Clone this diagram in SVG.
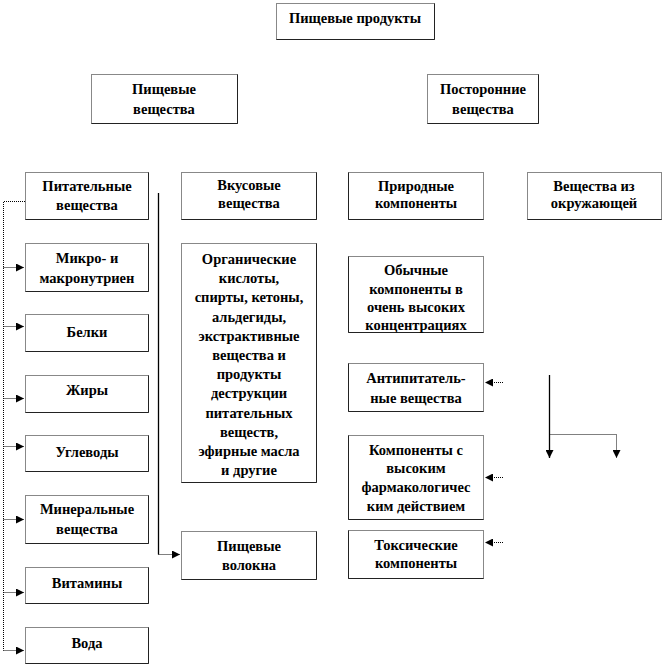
<svg xmlns="http://www.w3.org/2000/svg" width="664" height="666" viewBox="0 0 664 666">
<defs>
<style>
.bx{fill:#fff;stroke:#111;stroke-width:1;stroke-dasharray:1 1}
.sh{fill:none;stroke:#222;stroke-width:1}
.dl{fill:none;stroke:#000;stroke-width:1;stroke-dasharray:1 1}
.sl{fill:none;stroke:#000;stroke-width:1.3}
</style>
<marker id="ah" viewBox="0 0 8 8" refX="8" refY="4" markerWidth="8" markerHeight="8" markerUnits="userSpaceOnUse" orient="auto">
<path d="M0,0 L8,4 L0,8 Z" fill="#000"/>
</marker>
</defs>
<rect width="664" height="666" fill="#fff"/>
<g font-family="Liberation Serif, Times New Roman, serif" font-weight="bold" font-size="14.5" text-anchor="middle" fill="#000">
<g id="n-products"><rect class="bx" x="276.5" y="3.5" width="158" height="36"/><path class="sh" d="M434.5,3.5 V39.5 H276.5"/><text x="355" y="23">Пищевые продукты</text></g>
<g id="n-food"><rect class="bx" x="91.5" y="74.5" width="146" height="49"/><path class="sh" d="M237.5,74.5 V123.5 H91.5"/><text x="164" y="94">Пищевые</text><text x="164" y="114">вещества</text></g>
<g id="n-foreign"><rect class="bx" x="427.5" y="74.5" width="111" height="49"/><path class="sh" d="M538.5,74.5 V123.5 H427.5"/><text x="483" y="94">Посторонние</text><text x="483" y="114">вещества</text></g>

<g id="n-nutr"><rect class="bx" x="25.5" y="172.5" width="123" height="47"/><path class="sh" d="M148.5,172.5 V219.5 H25.5"/><text x="87" y="191">Питательные</text><text x="87" y="210">вещества</text></g>
<g id="n-micro"><rect class="bx" x="25.5" y="243.5" width="123" height="48"/><path class="sh" d="M148.5,243.5 V291.5 H25.5"/><text x="87" y="263">Микро- и</text><text x="87" y="283">макронутриен</text></g>
<g id="n-prot"><rect class="bx" x="25.5" y="314.5" width="123" height="37"/><path class="sh" d="M148.5,314.5 V351.5 H25.5"/><text x="87" y="337">Белки</text></g>
<g id="n-fat"><rect class="bx" x="25.5" y="375.5" width="123" height="37"/><path class="sh" d="M148.5,375.5 V412.5 H25.5"/><text x="87" y="395">Жиры</text></g>
<g id="n-carb"><rect class="bx" x="25.5" y="435.5" width="123" height="36"/><path class="sh" d="M148.5,435.5 V471.5 H25.5"/><text x="87" y="457">Углеводы</text></g>
<g id="n-min"><rect class="bx" x="25.5" y="495.5" width="123" height="48"/><path class="sh" d="M148.5,495.5 V543.5 H25.5"/><text x="87" y="514">Минеральные</text><text x="87" y="534">вещества</text></g>
<g id="n-vit"><rect class="bx" x="25.5" y="567.5" width="123" height="36"/><path class="sh" d="M148.5,567.5 V603.5 H25.5"/><text x="87" y="588">Витамины</text></g>
<g id="n-water"><rect class="bx" x="25.5" y="627.5" width="123" height="36"/><path class="sh" d="M148.5,627.5 V663.5 H25.5"/><text x="87" y="648">Вода</text></g>

<g id="n-taste"><rect class="bx" x="181.5" y="172.5" width="135" height="47"/><path class="sh" d="M316.5,172.5 V219.5 H181.5"/><text x="249" y="190">Вкусовые</text><text x="249" y="208">вещества</text></g>
<g id="n-org"><rect class="bx" x="181.5" y="243.5" width="135" height="239"/><path class="sh" d="M316.5,243.5 V482.5 H181.5"/>
<text x="249" y="264">Органические</text>
<text x="249" y="283.2">кислоты,</text>
<text x="249" y="302.4">спирты, кетоны,</text>
<text x="249" y="321.6">альдегиды,</text>
<text x="249" y="340.8">экстрактивные</text>
<text x="249" y="360">вещества и</text>
<text x="249" y="379.2">продукты</text>
<text x="249" y="398.4">деструкции</text>
<text x="249" y="417.6">питательных</text>
<text x="249" y="436.8">веществ,</text>
<text x="249" y="456">эфирные масла</text>
<text x="249" y="475.2">и другие</text></g>
<g id="n-fiber"><rect class="bx" x="181.5" y="531.5" width="135" height="48"/><path class="sh" d="M316.5,531.5 V579.5 H181.5"/><text x="249" y="551">Пищевые</text><text x="249" y="570">волокна</text></g>

<g id="n-natural"><rect class="bx" x="348.5" y="172.5" width="135" height="47"/><path class="sh" d="M348.5,172.5 V219.5 H483.5"/><text x="416" y="191">Природные</text><text x="416" y="208">компоненты</text></g>
<g id="n-env"><rect class="bx" x="527.5" y="172.5" width="134" height="47"/><path class="sh" d="M527.5,219.5 H661.5"/><text x="594" y="191">Вещества из</text><text x="594" y="208">окружающей</text></g>
<g id="n-usual"><rect class="bx" x="348.5" y="256.5" width="135" height="76"/><path class="sh" d="M348.5,256.5 V332.5 H483.5"/><text x="416" y="275">Обычные</text><text x="416" y="293.5">компоненты в</text><text x="416" y="312">очень высоких</text><text x="416" y="330">концентрациях</text></g>
<g id="n-anti"><rect class="bx" x="348.5" y="363.5" width="135" height="48"/><path class="sh" d="M348.5,363.5 V411.5 H483.5"/><text x="416" y="383">Антипитатель-</text><text x="416" y="403">ные вещества</text></g>
<g id="n-pharm"><rect class="bx" x="348.5" y="435.5" width="135" height="84"/><path class="sh" d="M348.5,435.5 V519.5 H483.5"/><text x="416" y="455">Компоненты с</text><text x="416" y="473">высоким</text><text x="416" y="492">фармакологичес</text><text x="416" y="511">ким действием</text></g>
<g id="n-toxic"><rect class="bx" x="348.5" y="530.5" width="135" height="48"/><path class="sh" d="M348.5,530.5 V578.5 H483.5"/><text x="416" y="550">Токсические</text><text x="416" y="568">компоненты</text></g>
</g>
<g id="connectors">
<path class="dl" d="M25,201.5 H3.5 V650.5"/>
<path class="dl" d="M3.5,267.5 H24" marker-end="url(#ah)"/>
<path class="dl" d="M3.5,326.5 H24" marker-end="url(#ah)"/>
<path class="dl" d="M3.5,398.5 H24" marker-end="url(#ah)"/>
<path class="dl" d="M3.5,446.5 H24" marker-end="url(#ah)"/>
<path class="dl" d="M3.5,519.5 H24" marker-end="url(#ah)"/>
<path class="dl" d="M3.5,592.5 H24" marker-end="url(#ah)"/>
<path class="dl" d="M3.5,650.5 H24" marker-end="url(#ah)"/>
<path class="sl" d="M158.5,193 V554.5"/>
<path class="dl" d="M158.5,554.5 H180" marker-end="url(#ah)"/>
<path class="dl" d="M503,382.5 H485" marker-end="url(#ah)"/>
<path class="dl" d="M503,477.5 H485" marker-end="url(#ah)"/>
<path class="dl" d="M503,542.5 H485" marker-end="url(#ah)"/>
<path class="sl" d="M549.5,375 V458" marker-end="url(#ah)"/>
<path class="dl" d="M549.5,434.5 H616.5 V458" marker-end="url(#ah)"/>
</g>
</svg>
